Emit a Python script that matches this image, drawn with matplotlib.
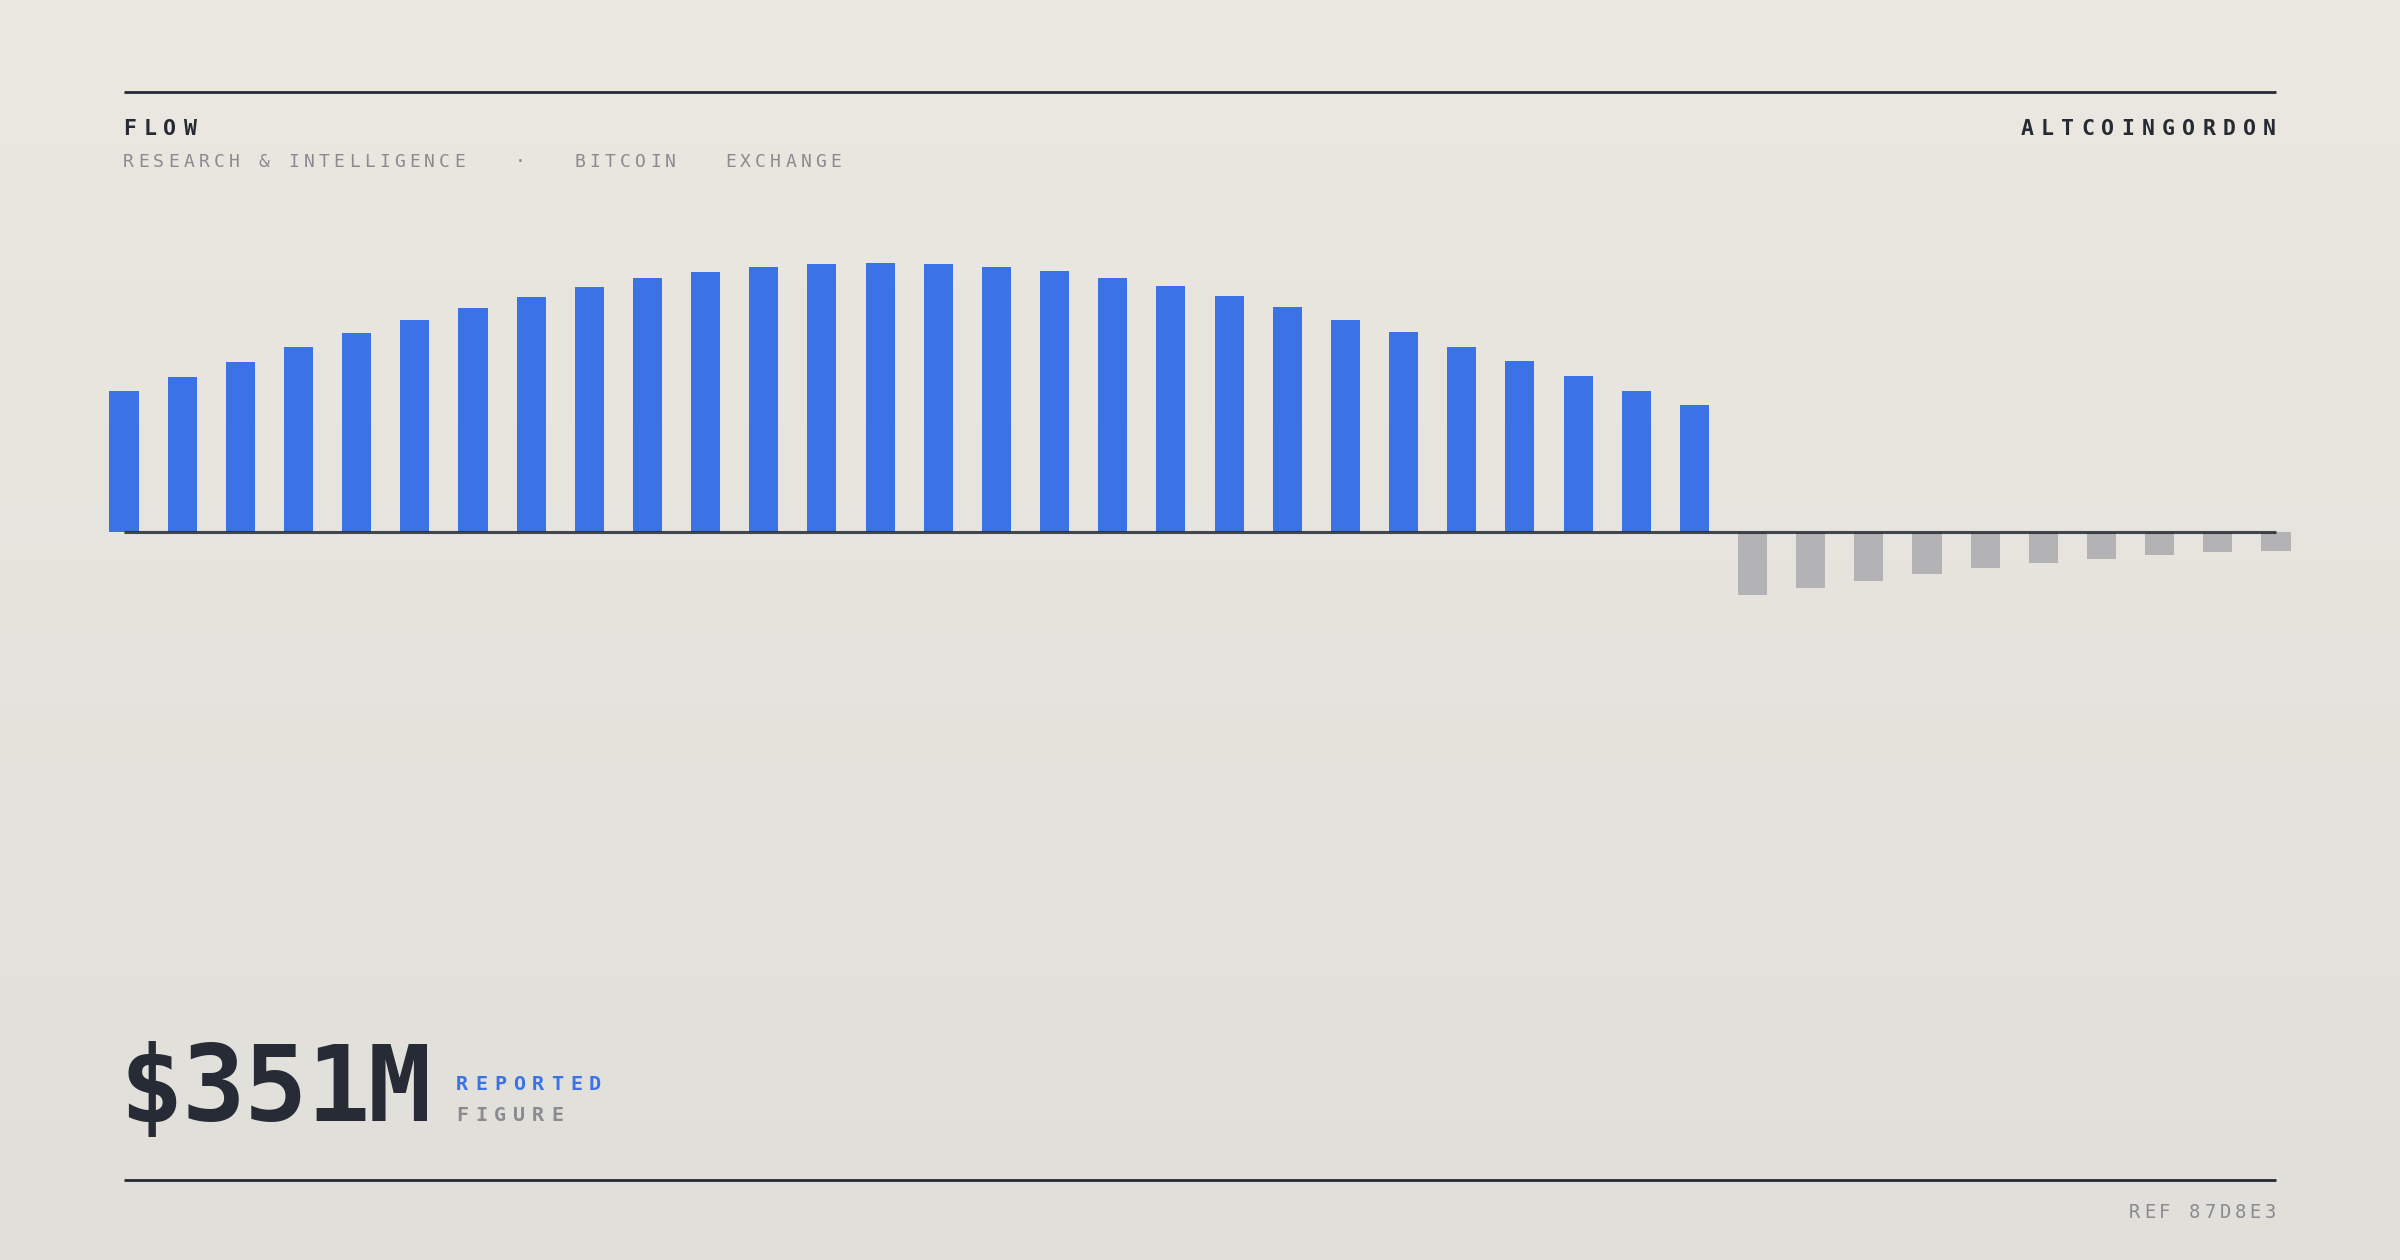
import numpy as np
import matplotlib
matplotlib.use('Agg')
import matplotlib.pyplot as plt

# flow values per period (blue = inflow, grey = outflow)
inflow = [14.1, 15.5, 17.0, 18.5, 19.9, 21.2, 22.4, 23.5, 24.5, 25.4,
          26.0, 26.5, 26.8, 26.9, 26.8, 26.5, 26.1, 25.4, 24.6, 23.6,
          22.5, 21.2, 20.0, 18.5, 17.1, 15.6, 14.1, 12.7]
outflow = [-6.3, -5.6, -4.9, -4.2, -3.6, -3.1, -2.7, -2.3, -2.0, -1.85]

title = "FLOW"
brand = "ALTCOINGORDON"
subtitle = "RESEARCH & INTELLIGENCE   \u00b7   BITCOIN   EXCHANGE"
big_value = "$351M"
value_label_1 = "REPORTED"
value_label_2 = "FIGURE"
ref = "REF 87D8E3"

W, H = 2400, 1260
DARK = '#262a33'
GREY_TXT = '#8a8b90'
BLUE = '#3b73e6'
GREY_BAR = '#b3b3b5'
MONO = 'DejaVu Sans Mono'

fig = plt.figure(figsize=(24, 12.6), dpi=100)

# background with a soft vertical gradient, in pixel coordinates
bg = fig.add_axes([0, 0, 1, 1])
top = np.array([235, 232, 225]) / 255
bot = np.array([225, 223, 218]) / 255
t = np.linspace(0, 1, 256)[:, None]
grad = top[None, :] * (1 - t) + bot[None, :] * t
bg.imshow(grad[:, None, :], aspect='auto', extent=[0, W, H, 0])
bg.set_xlim(0, W)
bg.set_ylim(H, 0)
bg.axis('off')


def spaced(x, y, s, pitch, size, color, weight='normal', right=False):
    # letter spaced text, one char at a time (x,y = left/right edge, baseline)
    if right:
        x = x - (len(s) - 1) * pitch - 0.55 * size / 0.72
    for i, ch in enumerate(s):
        bg.text(x + i * pitch, y, ch, fontsize=size, color=color,
                fontweight=weight, family=MONO, ha='left', va='baseline')


# top and bottom rules
bg.plot([124, 2276], [92, 92], color=DARK, lw=2, solid_capstyle='butt')
bg.plot([124, 2276], [1180, 1180], color=DARK, lw=2, solid_capstyle='butt')

# header
spaced(123, 135, title, 20.25, 15.5, DARK, 'bold')
spaced(2275, 135, brand, 20.25, 15.5, DARK, 'bold', right=True)
spaced(123, 167, subtitle, 15.05, 13, GREY_TXT)

# big figure
spaced(120, 1121, big_value, 62, 76, '#262b36', 'bold')
spaced(456, 1090, value_label_1, 19, 14.5, BLUE, 'bold')
spaced(456, 1121, value_label_2, 19, 14.5, GREY_TXT, 'bold')

# footer
spaced(2275, 1218, ref, 15.1, 13.5, GREY_TXT, right=True)

# bar chart: x step 58.16 px, 1 unit = 10 px, zero line at y=532 px
n = len(inflow) + len(outflow)
step = (2276 - 124) / (n - 1)
left = (124 - 0.5 * step) / W
width = n * step / W
ax = fig.add_axes([left, 1 - 632 / H, width, 400 / H])
ax.set_xlim(-0.5, n - 0.5)
ax.set_ylim(-10, 30)
ax.patch.set_alpha(0)
ax.axis('off')

x_in = np.arange(len(inflow))
x_out = np.arange(len(inflow), n)
ax.bar(x_in, inflow, width=0.5, color=BLUE, zorder=2)
ax.bar(x_out, outflow, width=0.5, color=GREY_BAR, zorder=2)
ax.plot([0, n - 1], [0, 0], color=DARK, alpha=0.85, lw=2.2,
        solid_capstyle='butt', zorder=3)

fig.savefig('out.png', dpi=100)
